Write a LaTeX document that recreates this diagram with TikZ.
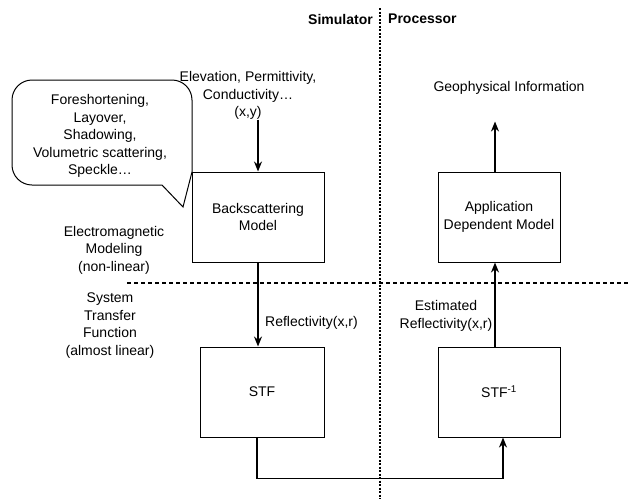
\documentclass[tikz,border=0pt]{standalone}
\usepackage{fontspec}
\setmainfont{Liberation Sans}
\usetikzlibrary{arrows.meta,positioning,calc}

\begin{document}
\begin{tikzpicture}[x=1pt,y=-1pt,font=\fontsize{14}{17.5}\selectfont,>={Stealth[length=10pt,width=8pt]},
  blk/.style={draw,line width=1pt,minimum height=90pt,align=center},
  lbl/.style={align=center,inner sep=0pt},
  flow/.style={->,line width=1.8pt}]
  \useasboundingbox (0,0) rectangle (629,499);
  % blocks
  \node[blk,minimum width=132pt] (bsm) at (258,217) {Backscattering\\Model};
  \node[blk,minimum width=122pt] (adm) at (499,217) {Application\\Dependent Model};
  \node[blk,minimum width=124pt] (stf) at (262,392) {STF};
  \node[blk,minimum width=122pt] (stfi) at (499,392) {STF\textsuperscript{-1}};
  % labels
  \node[lbl,font=\fontsize{14}{17.5}\selectfont\bfseries,anchor=east] (sim) at (373,19) {Simulator};
  \node[lbl,font=\fontsize{14}{17.5}\selectfont\bfseries,anchor=west] (proc) at (388,19) {Processor};
  \node[lbl] (params) at (248,95.5) {Elevation, Permittivity,\\Conductivity\dots\\(x,y)};
  \node[lbl] (geo) at (509,88) {Geophysical Information};
  \node[lbl] (effects) at (100,136) {Foreshortening,\\Layover,\\Shadowing,\\Volumetric scattering,\\Speckle\dots};
  \node[lbl] (emm) at (114,250) {Electromagnetic\\Modeling\\(non-linear)};
  \node[lbl] (sysf) at (110,325.5) {System\\Transfer\\Function\\(almost linear)};
  \node[lbl,anchor=west] (refl) at (265,323) {Reflectivity(x,r)};
  \node[lbl] (erefl) at (446,316) {Estimated\\Reflectivity(x,r)};
  % speech bubble
  \coordinate (tip) at (183,207);
  \draw[line width=1pt] (tip) -- (162,185) -- (32,185)
    arc[start angle=90,end angle=180,radius=20] -- (12,100)
    arc[start angle=180,end angle=270,radius=20] -- (172,80)
    arc[start angle=270,end angle=360,radius=20] -- (192,172) -- cycle;
  % divisions
  \coordinate (vtop) at (380,8);
  \coordinate (vbot) at (380,499);
  \coordinate (hl) at (127,283);
  \coordinate (hr) at (629,283);
  \draw[line width=1.2pt,dash pattern=on 2pt off 1.5pt] (vtop) -- (vbot);
  \draw[line width=1.2pt,dash pattern=on 4pt off 3pt] (hl) -- (hr);
  % flow
  \draw[flow] (params.south -| bsm.north) -- (bsm.north);
  \draw[flow] (bsm.south) -- (bsm.south |- stf.north);
  \coordinate (lowin) at ([xshift=4pt]stfi.south);
  \draw[flow] ([xshift=-5pt]stf.south) -- ++(0,41) -| (lowin);
  \draw[flow] ([xshift=-4pt]stfi.north) -- ([xshift=-4pt]adm.south);
  \coordinate (geotip) at ([xshift=-4pt,yshift=50pt]adm.north);
  \draw[flow] ([xshift=-4pt]adm.north) -- (geotip);
\end{tikzpicture}
\end{document}
